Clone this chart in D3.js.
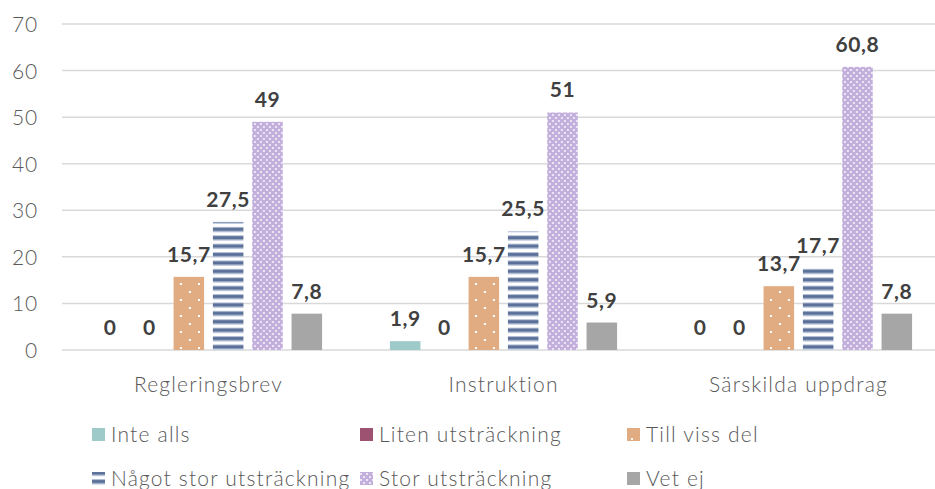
<!DOCTYPE html>
<html>
<head>
<meta charset="utf-8">
<script src="https://cdn.jsdelivr.net/npm/d3@7"></script>
<style>
  body { margin: 0; background: #fff; }
  text { font-family: "Lato", "Open Sans", sans-serif; }
</style>
</head>
<body>
<div id="chart"></div>
<script>
// data
var categories = ["Regleringsbrev", "Instruktion", "Särskilda uppdrag"];
var seriesNames = ["Inte alls", "Liten utsträckning", "Till viss del", "Något stor utsträckning", "Stor utsträckning", "Vet ej"];
var inteAlls   = [0, 1.9, 0];
var liten      = [0, 0, 0];
var tillViss   = [15.7, 15.7, 13.7];
var nagotStor  = [27.5, 25.5, 17.7];
var stor       = [49, 51, 60.8];
var vetEj      = [7.8, 5.9, 7.8];
var yTicks = [0, 10, 20, 30, 40, 50, 60, 70];

var values = [inteAlls, liten, tillViss, nagotStor, stor, vetEj];

var width = 935, height = 489;

const svg = d3.select("#chart")
  .append("svg")
    .attr("width", width)
    .attr("height", height);

// patterns
var defs = svg.append("defs");

var dots = defs.append("pattern")
  .attr("id", "dots").attr("patternUnits", "userSpaceOnUse")
  .attr("width", 18).attr("height", 16);
dots.append("rect").attr("width", 18).attr("height", 16).attr("fill", "#e2ac83");
dots.append("rect").attr("x", 4).attr("y", 3).attr("width", 2).attr("height", 2).attr("fill", "#fff");
dots.append("rect").attr("x", 13).attr("y", 11).attr("width", 2).attr("height", 2).attr("fill", "#fff");

var stripes = defs.append("pattern")
  .attr("id", "stripes").attr("patternUnits", "userSpaceOnUse")
  .attr("width", 10).attr("height", 8.4);
stripes.append("rect").attr("width", 10).attr("height", 8.4).attr("fill", "#ffffff");
stripes.append("rect").attr("y", 0).attr("width", 10).attr("height", 1).attr("fill", "#b4c1d8");
stripes.append("rect").attr("y", 1).attr("width", 10).attr("height", 3.4).attr("fill", "#5a7099");
stripes.append("rect").attr("y", 4.4).attr("width", 10).attr("height", 1).attr("fill", "#b4c1d8");

var checks = defs.append("pattern")
  .attr("id", "checks").attr("patternUnits", "userSpaceOnUse")
  .attr("width", 6).attr("height", 6);
checks.append("rect").attr("width", 6).attr("height", 6).attr("fill", "#c2afdc");
checks.append("rect").attr("x", 0).attr("y", 0).attr("width", 2).attr("height", 2).attr("fill", "#ece5f5");
checks.append("rect").attr("x", 3).attr("y", 3).attr("width", 2).attr("height", 2).attr("fill", "#ece5f5");

var fills = ["#9ecbc9", "#9c5270", "url(#dots)", "url(#stripes)", "url(#checks)", "#a6a6a6"];

// scales
var y = d3.scaleLinear().domain([0, 70]).range([350, 24]);

var x0 = d3.scaleBand()
  .domain(categories)
  .range([61, 946])
  .paddingInner(0.23)
  .paddingOuter(0.115);

var x1 = d3.scaleBand()
  .domain(seriesNames)
  .range([0, x0.bandwidth()])
  .paddingInner(0.224)
  .paddingOuter(0);

// gridlines
svg.append("g")
  .selectAll("line")
  .data(yTicks)
  .join("line")
    .attr("x1", 62).attr("x2", 935)
    .attr("y1", d => y(d)).attr("y2", d => y(d))
    .attr("stroke", "#d9d9d9")
    .attr("stroke-width", 1.5);

// y axis labels
var yAxis = d3.axisLeft(y).tickValues(yTicks).tickSize(0).tickPadding(0);
var gy = svg.append("g")
  .attr("transform", "translate(38,0)")
  .call(yAxis);
gy.select(".domain").remove();
gy.selectAll("text")
  .attr("dy", "0.36em")
  .style("font-size", "21px")
  .style("font-weight", 300)
  .style("letter-spacing", "0.8px")
  .style("font-family", "Lato, sans-serif")
  .attr("fill", "#595959");

// x axis labels
var xAxis = d3.axisBottom(x0).tickSize(0).tickPadding(0);
var gx = svg.append("g")
  .attr("transform", "translate(0,392)")
  .call(xAxis);
gx.select(".domain").remove();
gx.selectAll("text")
  .attr("dy", 0)
  .style("font-size", "21px")
  .style("font-weight", 300)
  .style("letter-spacing", "1.2px")
  .style("font-family", "Lato, sans-serif")
  .attr("fill", "#595959");

// bars
var groups = svg.append("g")
  .selectAll("g")
  .data(categories)
  .join("g")
    .attr("transform", d => `translate(${x0(d)},0)`);

groups.selectAll("rect")
  .data((c, ci) => seriesNames.map((s, si) => ({ s: s, si: si, v: values[si][ci] })))
  .join("rect")
    .attr("x", d => x1(d.s))
    .attr("y", d => y(d.v))
    .attr("width", x1.bandwidth())
    .attr("height", d => y(0) - y(d.v))
    .attr("fill", d => fills[d.si]);

groups.selectAll("text.lbl")
  .data((c, ci) => seriesNames.map((s, si) => ({ s: s, si: si, v: values[si][ci] })))
  .join("text")
    .attr("class", "lbl")
    .attr("x", d => x1(d.s) + x1.bandwidth() / 2)
    .attr("y", d => y(d.v) - 15)
    .attr("text-anchor", "middle")
    .style("font-size", "21px")
    .style("font-weight", 700)
    .style("letter-spacing", "0.6px")
    .attr("fill", "#404040")
    .text(d => String(d.v).replace(".", ","));

// legend
var legX = [92, 360, 627];
var legY = [435, 479];
var legend = svg.append("g")
  .selectAll("g")
  .data(seriesNames)
  .join("g")
    .attr("transform", (d, i) => `translate(${legX[i % 3]},${legY[Math.floor(i / 3)]})`);

legend.append("rect")
  .attr("x", 0).attr("y", -7)
  .attr("width", 13).attr("height", 13)
  .attr("fill", (d, i) => fills[i]);

legend.append("text")
  .attr("x", 19)
  .attr("y", 7)
  .style("font-size", "21px")
  .style("font-weight", 300)
  .style("letter-spacing", "1.2px")
  .attr("fill", "#595959")
  .text(d => d);
</script>
</body>
</html>
